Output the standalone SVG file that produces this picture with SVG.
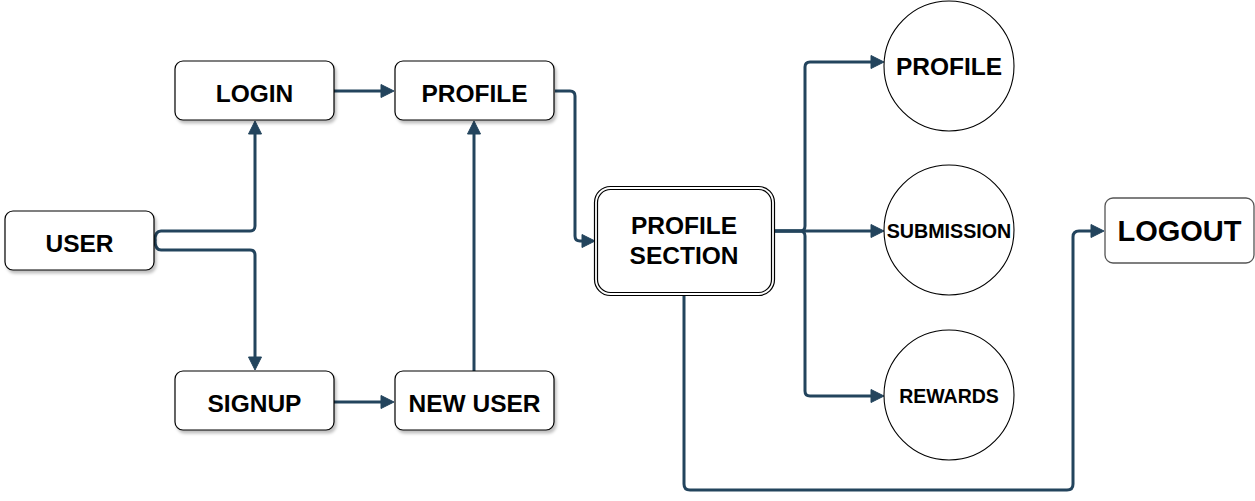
<svg xmlns="http://www.w3.org/2000/svg" width="1255" height="501" viewBox="0 0 1255 501">
<style>
.box{fill:#fff;stroke:#000;stroke-width:1.2}
.circ{fill:#fff;stroke:#000;stroke-width:1.1}
.t{font-family:"Liberation Sans",Arial,sans-serif;font-weight:bold;fill:#000;text-anchor:middle}
.c{fill:none;stroke:#23445D;stroke-width:3;stroke-linejoin:round}
</style>
<defs>
<filter id="sh" x="-10%" y="-10%" width="130%" height="140%">
<feDropShadow dx="2" dy="3" stdDeviation="1.5" flood-color="#000" flood-opacity="0.25"/>
</filter>
<marker id="ar" markerUnits="userSpaceOnUse" markerWidth="14" markerHeight="14" refX="0" refY="7" orient="auto" overflow="visible">
<path d="M0,0.5 L13,7 L0,13.5 Z" fill="#23445D" stroke="#23445D" stroke-width="1"/>
</marker>
</defs>
<g id="connectors">
<path class="c" marker-end="url(#ar)" d="M154,240 L155,240 Q155,231 161,231 L250,231 Q255,231 255,226 L255,134"/>
<path class="c" marker-end="url(#ar)" d="M154,240 L155,240 Q155,250 161,250 L250,250 Q255,250 255,255 L255,357"/>
<path class="c" marker-end="url(#ar)" d="M334,91 L381,91"/>
<path class="c" marker-end="url(#ar)" d="M334,402 L381,402"/>
<path class="c" marker-end="url(#ar)" d="M474,371 L474,134"/>
<path class="c" marker-end="url(#ar)" d="M555,91 L570,91 Q575,91 575,96 L575,236 Q575,241 580,241 L582,241"/>
<path class="c" marker-end="url(#ar)" d="M774,231 L800,231 Q805,231 805,226 L805,67 Q805,62 810,62 L871,62"/>
<path class="c" marker-end="url(#ar)" d="M774,231 L871,231"/>
<path class="c" marker-end="url(#ar)" d="M774,231 L800,231 Q805,231 805,236 L805,391 Q805,396 810,396 L871,396"/>
<path class="c" marker-end="url(#ar)" d="M684,295 L684,484 Q684,490 690,490 L1067,490 Q1073,490 1073,484 L1073,237 Q1073,231 1079,231 L1091,231"/>
</g>
<g id="user">
<rect class="box" filter="url(#sh)" x="5" y="211" width="149" height="59" rx="8"/>
<text class="t" x="79.5" y="251.5" font-size="24.5">USER</text>
</g>
<g id="login">
<rect class="box" filter="url(#sh)" x="175" y="61" width="159" height="59" rx="8"/>
<text class="t" x="254.5" y="102" font-size="24.5">LOGIN</text>
</g>
<g id="profile">
<rect class="box" filter="url(#sh)" x="395" y="61" width="159" height="59" rx="8"/>
<text class="t" x="474.5" y="102" font-size="24.5">PROFILE</text>
</g>
<g id="signup">
<rect class="box" filter="url(#sh)" x="175" y="371" width="159" height="59" rx="8"/>
<text class="t" x="254.5" y="412" font-size="24.5">SIGNUP</text>
</g>
<g id="newuser">
<rect class="box" filter="url(#sh)" x="395" y="371" width="159" height="59" rx="8"/>
<text class="t" x="474.5" y="412" font-size="24.5">NEW USER</text>
</g>
<g id="profilesection">
<rect class="box" x="594.5" y="186.5" width="180" height="109" rx="16"/>
<rect class="box" x="597.5" y="189.5" width="174" height="103" rx="13"/>
<text class="t" x="684" y="234" font-size="24.5">PROFILE</text>
<text class="t" x="684" y="264" font-size="24.5">SECTION</text>
</g>
<g id="profilecircle">
<circle class="circ" cx="949" cy="66" r="65"/>
<text class="t" x="949" y="75" font-size="24.5">PROFILE</text>
</g>
<g id="submission">
<circle class="circ" cx="949" cy="230" r="65"/>
<text class="t" x="949" y="237.5" font-size="19.7">SUBMISSION</text>
</g>
<g id="rewards">
<circle class="circ" cx="949" cy="395" r="65"/>
<text class="t" x="949" y="402.5" font-size="19.5">REWARDS</text>
</g>
<g id="logout">
<rect x="1105" y="198" width="149" height="65" rx="8" fill="#fff" stroke="#555" stroke-width="1.3"/>
<text class="t" x="1179.5" y="240.5" font-size="29">LOGOUT</text>
</g>
</svg>
